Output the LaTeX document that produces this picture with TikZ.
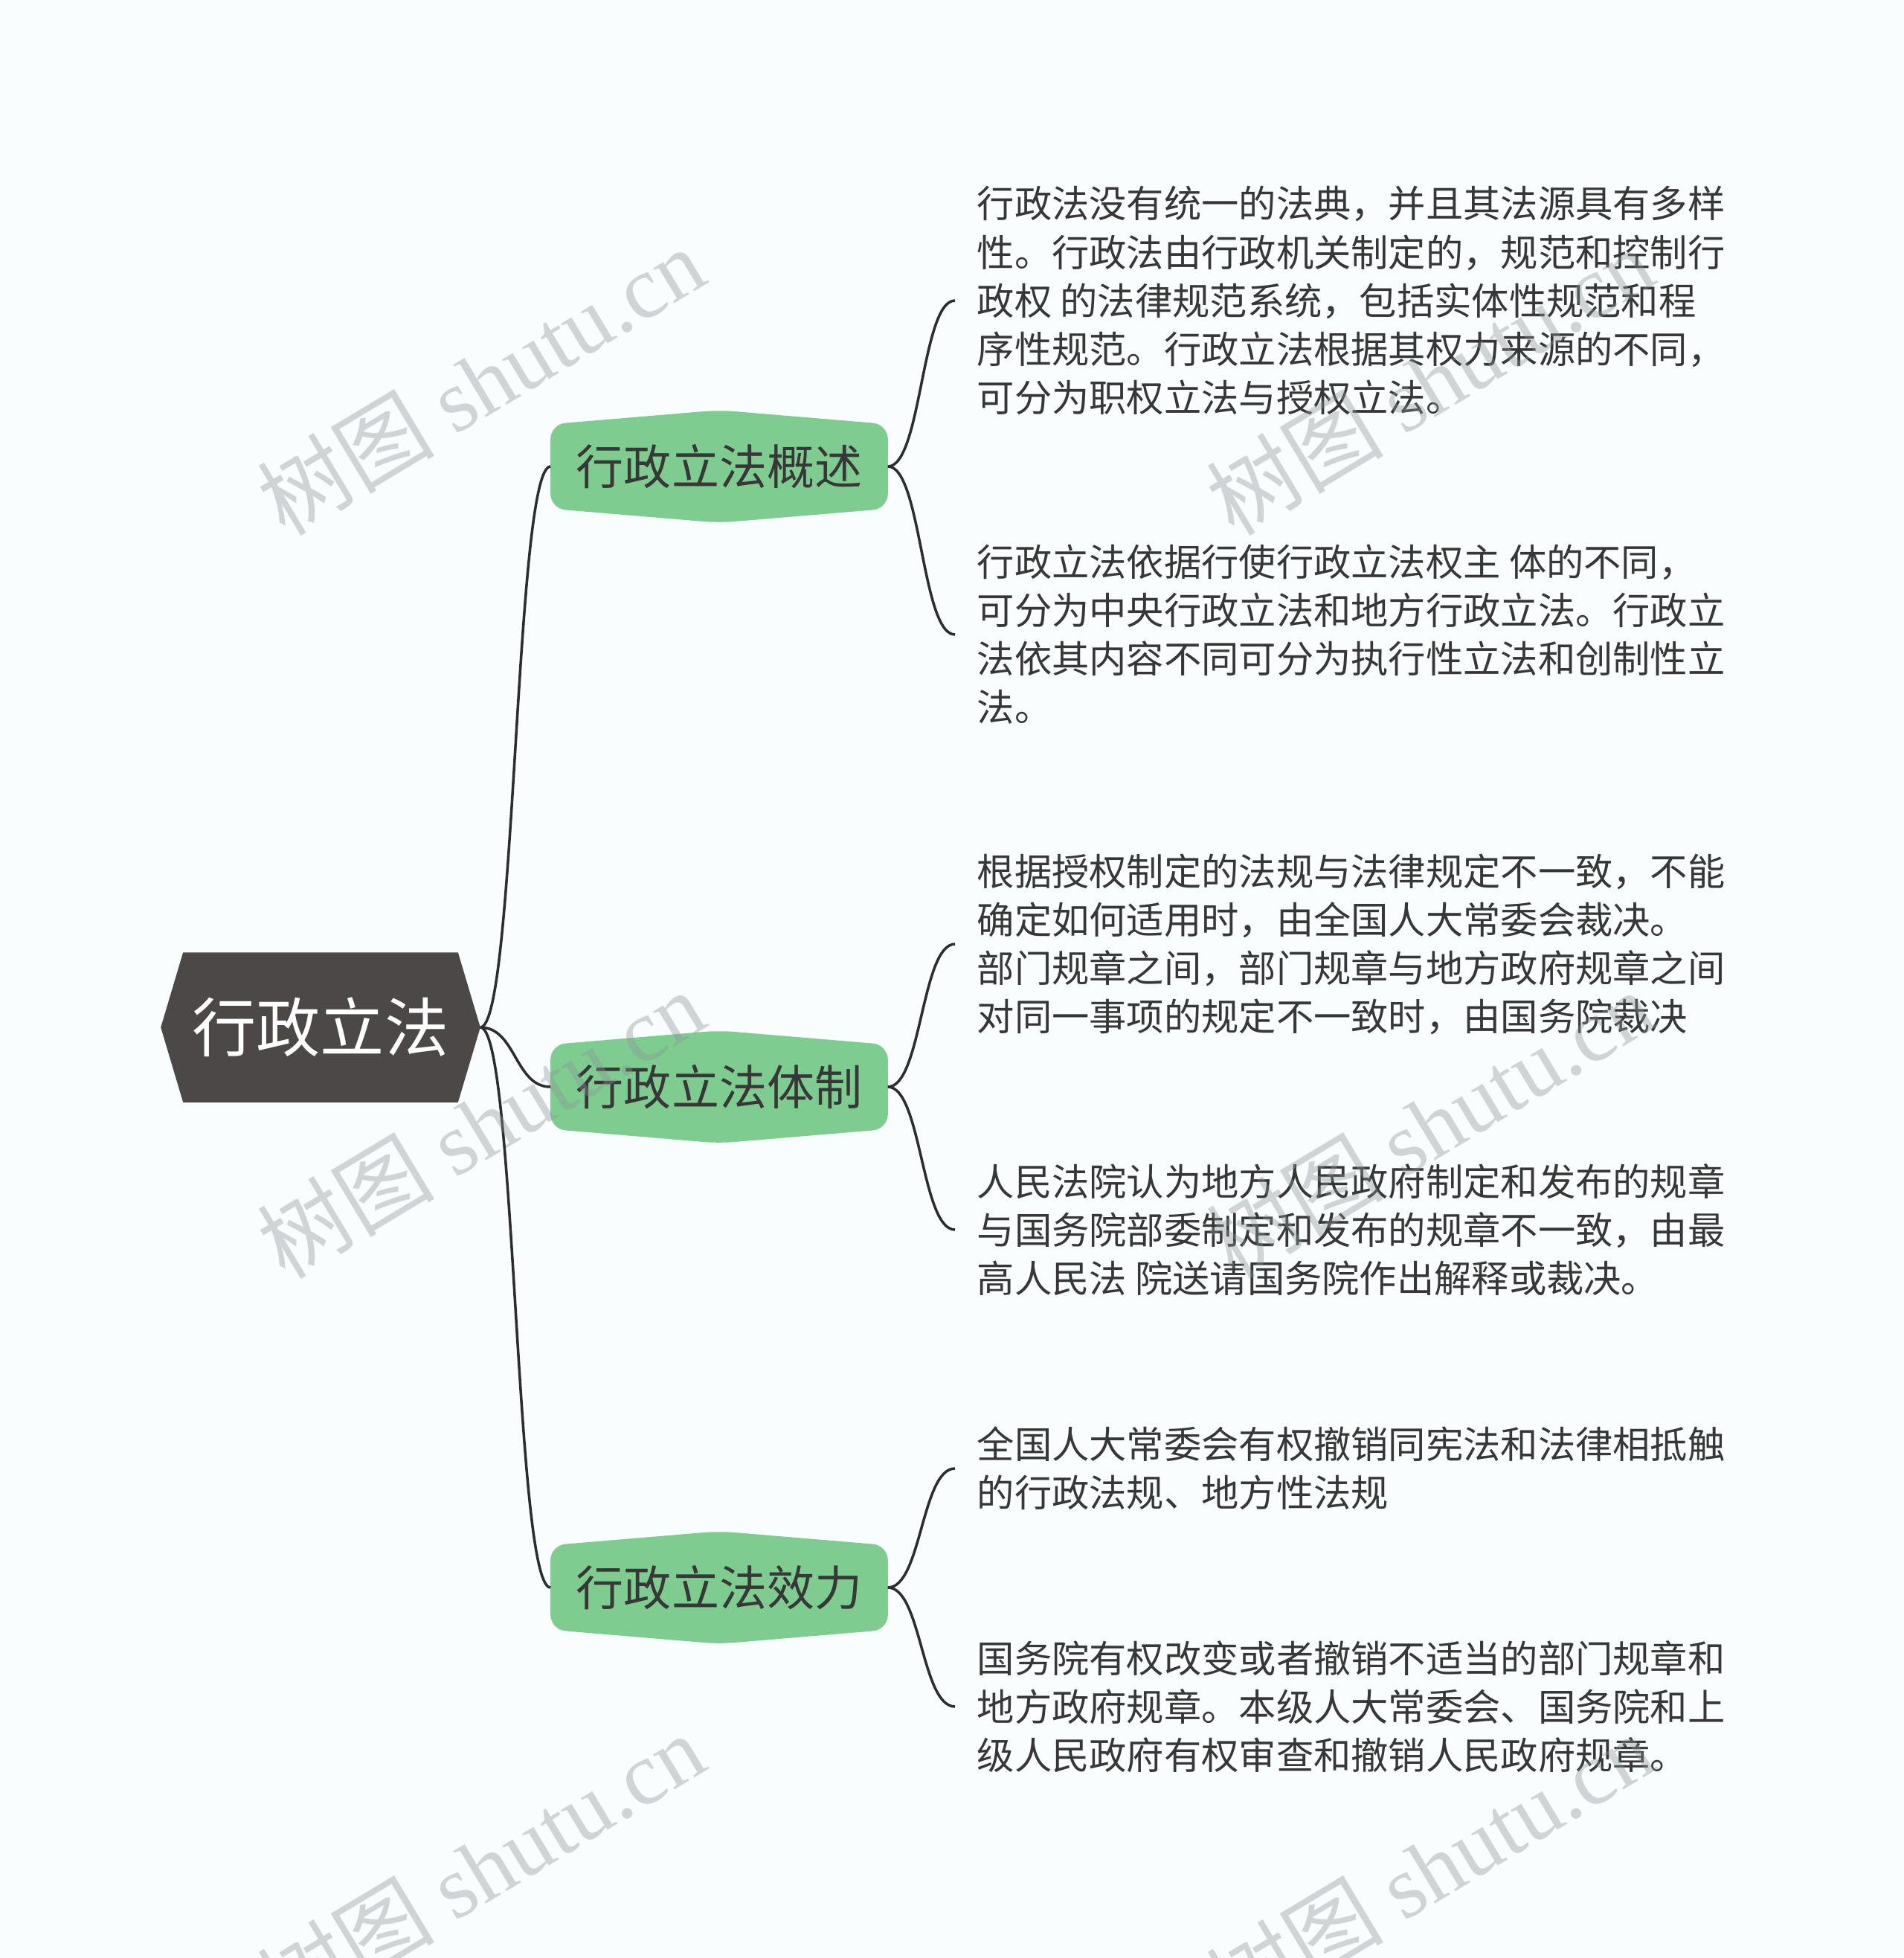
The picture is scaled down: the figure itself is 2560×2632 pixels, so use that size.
\documentclass[tikz,border=0pt]{standalone}
\usepackage{fontspec}
\setmainfont{Noto Sans CJK SC}
\newfontfamily\markfont{Liberation Serif}
\usetikzlibrary{calc,backgrounds}

\definecolor{pagebg}{RGB}{249,253,254}
\definecolor{rootfill}{RGB}{77,72,72}
\definecolor{topicgreen}{RGB}{126,204,143}
\definecolor{inkgray}{RGB}{55,55,55}
\definecolor{linegray}{RGB}{45,45,45}
\definecolor{markgray}{RGB}{140,148,152}

\begin{document}
\begin{tikzpicture}[x=0.01cm,y=-0.01cm,
    roottopic/.style={inner sep=0,minimum width=4.28cm,minimum height=2cm,text=white,font=\fontsize{24.5}{29}\selectfont},
    subtopic/.style={inner sep=0,minimum width=4.52cm,minimum height=1.12cm,text=inkgray,font=\fontsize{18.2}{22}\selectfont},
    leaftext/.style={anchor=west,inner xsep=0.29cm,inner ysep=0,align=left,text=inkgray,font=\fontsize{14.3}{18.5}\selectfont},
    branch/.style={linegray,line width=1pt},
    watermark/.style={text=markgray,opacity=0.38,rotate=31,font=\fontsize{34}{38}\selectfont}]
        \useasboundingbox(0,0)rectangle(2560,2632);

        \node[roottopic](root)at(431,1381){行政立法};
        \node[subtopic](t1)at(967,627){行政立法概述};
        \node[subtopic](t2)at(967,1461){行政立法体制};
        \node[subtopic](t3)at(967,2134){行政立法效力};

        \node[leaftext](l1)at(1284,404){行政法没有统一的法典，并且其法源具有多样\\性。行政法由行政机关制定的，规范和控制行\\政权 的法律规范系统，包括实体性规范和程\\序性规范。行政立法根据其权力来源的不同，\\可分为职权立法与授权立法。};
        \node[leaftext](l2)at(1284,853){行政立法依据行使行政立法权主 体的不同，\\可分为中央行政立法和地方行政立法。行政立\\法依其内容不同可分为执行性立法和创制性立\\法。};
        \node[leaftext](l3)at(1284,1269){根据授权制定的法规与法律规定不一致，不能\\确定如何适用时，由全国人大常委会裁决。\\部门规章之间，部门规章与地方政府规章之间\\对同一事项的规定不一致时，由国务院裁决};
        \node[leaftext](l4)at(1284,1653){人民法院认为地方人民政府制定和发布的规章\\与国务院部委制定和发布的规章不一致，由最\\高人民法 院送请国务院作出解释或裁决。};
        \node[leaftext](l5)at(1284,1974){全国人大常委会有权撤销同宪法和法律相抵触\\的行政法规、地方性法规};
        \node[leaftext](l6)at(1284,2294){国务院有权改变或者撤销不适当的部门规章和\\地方政府规章。本级人大常委会、国务院和上\\级人民政府有权审查和撤销人民政府规章。};

        \begin{scope}[on background layer]
            \fill[pagebg](0,0)rectangle(2560,2632);
            \fill[rootfill](root.west)--($(root.north west)+(30,0)$)--($(root.north east)+(-30,0)$)--(root.east)
                --($(root.south east)+(-30,0)$)--($(root.south west)+(30,0)$)--cycle;
            \foreach \t in {t1,t2,t3}
                \fill[topicgreen,rounded corners=0.2cm](\t.south west)--(\t.north west)--($(\t.north)+(0,-19)$)
                    --(\t.north east)--(\t.south east)--($(\t.south)+(0,19)$)--cycle;
        \end{scope}

        \foreach \t in {t1,t2,t3}
            \draw[branch](root.east)..controls +(48,0) and +(-48,0)..(\t.west);
        \foreach \t/\l in {t1/l1,t1/l2,t2/l3,t2/l4,t3/l5,t3/l6}
            \draw[branch](\t.east)..controls +(45,0) and +(-45,0)..(\l.west);

        \foreach \x/\y [count=\i] in {646/512,1922/512,646/1511,1922/1511,646/2510,1922/2510}
            \node[watermark](mark\i)at(\x,\y){树图 {\markfont shutu.cn}};
\end{tikzpicture}
\end{document}
